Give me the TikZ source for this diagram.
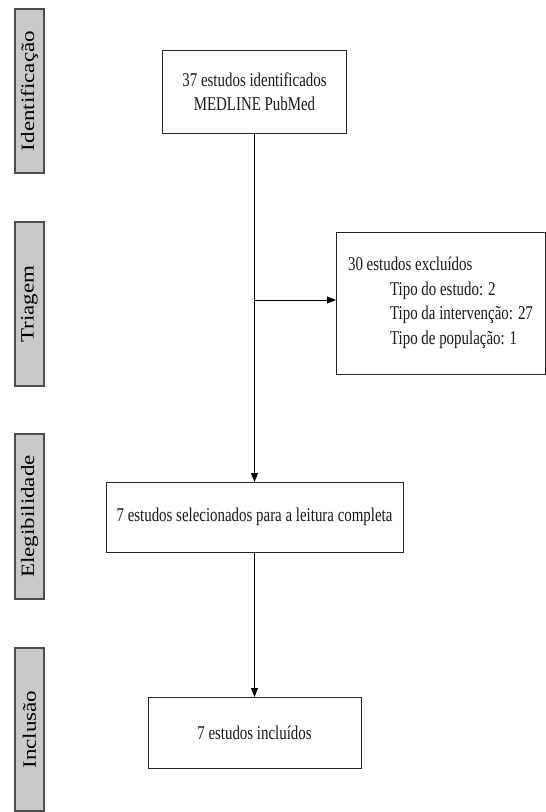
\documentclass[tikz,border=0pt]{standalone}
\usepackage{fontspec}
\usepackage{graphicx}
\setmainfont[FakeStretch=0.765]{Liberation Serif}
\newfontfamily\labfont{Liberation Serif}
\usetikzlibrary{arrows.meta}
\tikzset{
  flowbox/.style={draw=black!85, line width=1pt, fill=white, inner sep=0pt, outer sep=0pt,
    font=\fontsize{19.5}{24.5}\selectfont, text=black!90, align=center},
  phase/.style={draw=black!70, line width=1.2pt, fill=gray!42, inner sep=0pt, outer sep=0pt,
    rotate=90, minimum height=29pt, text=black},
  link/.style={line width=0.9pt, black, -{Triangle[length=9pt,width=7pt]}}
}
\newcommand{\phasetext}[1]{\scalebox{1}[0.82]{\labfont\fontsize{23}{23}\selectfont #1}}
\begin{document}
\begin{tikzpicture}[x=1pt,y=-1pt]
\useasboundingbox (0,0) rectangle (546,812);
% phase labels
\node[phase, minimum width=164pt] (p1) at (29.5,91) {\phasetext{Identificação}};
\node[phase, minimum width=164pt] (p2) at (29.5,304) {\phasetext{Triagem}};
\node[phase, minimum width=165pt] (p3) at (29.5,516.5) {\phasetext{Elegibilidade}};
\node[phase, minimum width=163pt] (p4) at (29.5,729.5) {\phasetext{Inclusão}};
% boxes
\node[flowbox, minimum width=184pt, minimum height=83pt] (b1) at (254.5,91.5)
  {37 estudos identificados\\MEDLINE PubMed};
\node[flowbox, minimum width=209pt, minimum height=142pt, align=left] (b2) at (440.5,303)
  {30 estudos excluídos\\
   \hspace*{42pt}Tipo do estudo: 2\\
   \hspace*{42pt}Tipo da intervenção: 27\\
   \hspace*{42pt}Tipo de população: 1};
\node[flowbox, minimum width=297pt, minimum height=70pt] (b3) at (254.5,517)
  {7 estudos selecionados para a leitura completa};
\node[flowbox, minimum width=213pt, minimum height=71pt] (b4) at (254.5,732.5)
  {7 estudos incluídos};
% connectors
\coordinate (j) at (254.5,300);
\draw[link] (b1.south) -- (b3.north);
\draw[link] (j) -- (j -| b2.west);
\draw[link] (b3.south) -- (b4.north);
\end{tikzpicture}
\end{document}
